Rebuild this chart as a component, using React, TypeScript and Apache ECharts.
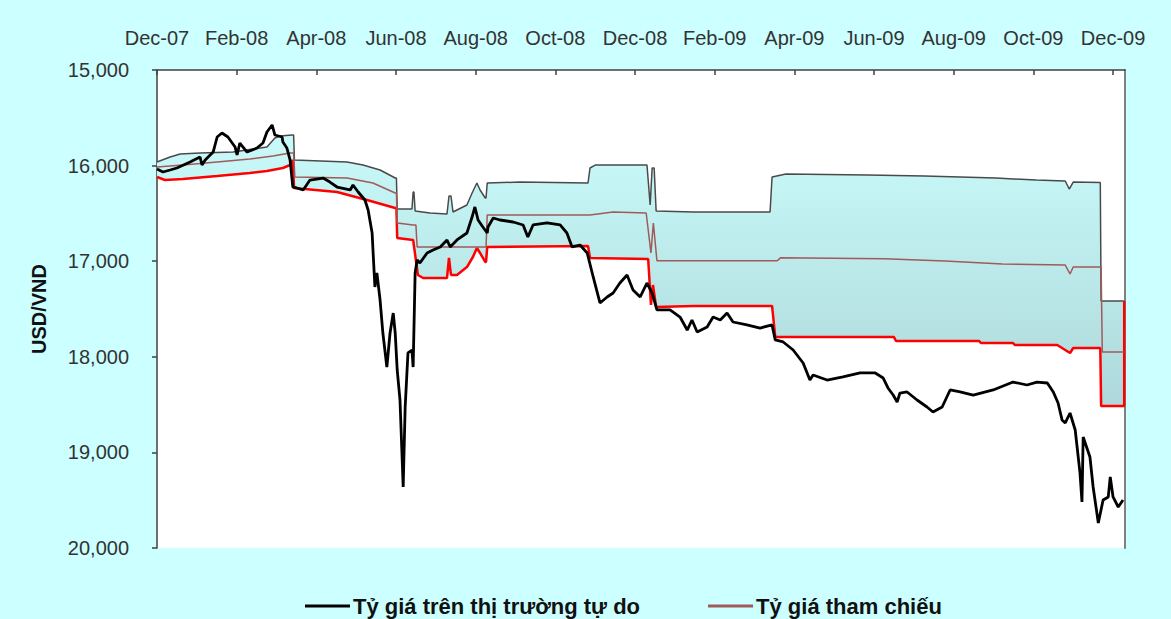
import React, { useEffect, useRef } from 'react';
import * as echarts from 'echarts';

// x positions are months elapsed since the Dec-07 tick (0 = Dec-07, 24 = Dec-09)
const xTickLabels = ['Dec-07', 'Feb-08', 'Apr-08', 'Jun-08', 'Aug-08', 'Oct-08', 'Dec-08', 'Feb-09', 'Apr-09', 'Jun-09', 'Aug-09', 'Oct-09', 'Dec-09'];
const yMin = 15000;
const yMax = 20000;
const yStep = 1000;
const xMax = 24.3;

const legendNames = ['Tỷ giá trên thị trường tự do', 'Tỷ giá tham chiếu'];

// Upper edge of the permitted band (drawn as the dark grey line)
const upperBand: [number, number][] = [
  [0, 15962], [0.33, 15910], [0.58, 15879], [1.08, 15868], [1.91, 15858], [2.59, 15816], [2.76, 15805],
  [2.96, 15711], [3.09, 15690], [3.39, 15680], [3.43, 15680], [3.45, 15941], [4.77, 15962], [5.17, 15994],
  [5.6, 16046], [5.98, 16130], [6.01, 16130], [6.03, 16454], [6.4, 16454], [6.43, 16276], [6.45, 16276],
  [6.48, 16475], [6.85, 16496], [7.28, 16506], [7.33, 16318], [7.38, 16318], [7.43, 16485], [7.78, 16412],
  [7.91, 16287], [8.03, 16182], [8.11, 16255], [8.24, 16339], [8.26, 16339], [8.29, 16182], [9.11, 16172],
  [10.82, 16182], [10.87, 16025], [11.0, 15994], [12.3, 15994], [12.38, 16412], [12.43, 16025], [12.48, 16025],
  [12.53, 16475], [13.46, 16485], [15.39, 16485], [15.44, 16119], [15.79, 16088], [17.83, 16098], [19.26, 16109],
  [21.06, 16130], [22.07, 16151], [22.8, 16161], [22.9, 16245], [23.0, 16172], [23.68, 16177], [23.7, 17416],
  [24.28, 17416],
];

// Reference rate
const refRate: [number, number][] = [
  [0, 16015], [0.65, 15994], [1.51, 15962], [2.33, 15931], [2.91, 15900], [3.34, 15868], [3.43, 15868],
  [3.46, 16119], [4.77, 16130], [5.42, 16182], [5.98, 16287], [6.01, 16287], [6.03, 16600], [6.43, 16621],
  [6.5, 16621], [6.53, 16851], [8.26, 16851], [8.29, 16517], [10.87, 16517], [11.45, 16485], [12.28, 16496],
  [12.4, 16914], [12.46, 16600], [12.55, 16995], [15.57, 16995], [15.65, 16965], [18.25, 16975], [19.78, 16998],
  [21.22, 17029], [22.8, 17040], [22.92, 17134], [23.0, 17061], [23.7, 17061], [23.73, 17950], [24.28, 17950],
];

// Lower edge of the permitted band (drawn as the red line)
const lowerBand: [number, number][] = [
  [0, 16119], [0.2, 16151], [0.65, 16140], [1.51, 16109], [2.33, 16077], [2.76, 16056], [3.16, 16025],
  [3.34, 15994], [3.41, 15941], [3.44, 16234], [4.52, 16276], [5.27, 16360], [5.98, 16443], [6.01, 16443],
  [6.03, 16757], [6.43, 16778], [6.55, 17144], [6.68, 17176], [7.28, 17176], [7.33, 16966], [7.38, 17144],
  [7.53, 17144], [7.78, 17061], [7.93, 16956], [8.03, 16862], [8.11, 16914], [8.24, 17008], [8.26, 17008],
  [8.29, 16851], [10.82, 16841], [10.87, 16966], [12.33, 16977], [12.4, 17458], [12.45, 17249], [12.53, 17479],
  [13.46, 17468], [15.44, 17468], [15.52, 17793], [18.5, 17793], [18.55, 17835], [20.64, 17835], [20.69, 17856],
  [21.49, 17856], [21.54, 17877], [22.6, 17877], [22.92, 17960], [23.0, 17908], [23.68, 17908], [23.7, 18515],
  [24.28, 18515], [24.28, 17416],
];

// Free-market rate
const freeMarket: [number, number][] = [
  [0, 16036], [0.15, 16067], [0.33, 16046], [0.5, 16025], [0.83, 15962], [1.08, 15910], [1.13, 15994],
  [1.21, 15941], [1.41, 15858], [1.51, 15701], [1.63, 15659], [1.78, 15701], [1.96, 15805], [2.01, 15889],
  [2.08, 15764], [2.26, 15858], [2.51, 15816], [2.66, 15764], [2.76, 15649], [2.89, 15575], [2.96, 15680],
  [3.14, 15701], [3.16, 15753], [3.26, 15816], [3.34, 15941], [3.41, 16224], [3.51, 16234], [3.67, 16255],
  [3.84, 16151], [4.17, 16130], [4.34, 16172], [4.52, 16224], [4.85, 16255], [4.92, 16203], [5.05, 16276],
  [5.22, 16360], [5.3, 16464], [5.4, 16705], [5.47, 17270], [5.52, 17123], [5.6, 17406], [5.67, 17751],
  [5.77, 18107], [5.85, 17751], [5.93, 17542], [5.98, 17751], [6.03, 18138], [6.1, 18452], [6.18, 19362],
  [6.23, 18525], [6.3, 17960], [6.4, 17929], [6.43, 18107], [6.48, 17123], [6.53, 16987], [6.6, 17019],
  [6.78, 16914], [6.93, 16883], [7.11, 16851], [7.28, 16778], [7.36, 16851], [7.53, 16778], [7.78, 16705],
  [7.91, 16538], [7.98, 16433], [8.06, 16569], [8.18, 16642], [8.29, 16705], [8.31, 16642], [8.44, 16548],
  [8.61, 16569], [8.94, 16590], [9.19, 16621], [9.31, 16747], [9.44, 16621], [9.79, 16600], [10.12, 16621],
  [10.29, 16705], [10.42, 16851], [10.62, 16831], [10.8, 16914], [10.95, 17165], [11.12, 17437], [11.3, 17374],
  [11.45, 17333], [11.62, 17228], [11.8, 17144], [11.95, 17301], [12.13, 17374], [12.3, 17228], [12.43, 17333],
  [12.55, 17510], [12.88, 17510], [13.13, 17584], [13.31, 17720], [13.43, 17615], [13.56, 17741], [13.81, 17688],
  [13.96, 17584], [14.14, 17615], [14.31, 17542], [14.46, 17636], [14.81, 17667], [15.14, 17699], [15.44, 17667],
  [15.52, 17824], [15.72, 17845], [15.97, 17929], [16.22, 18065], [16.39, 18243], [16.47, 18190], [16.82, 18243],
  [17.22, 18211], [17.65, 18169], [18.03, 18169], [18.23, 18222], [18.35, 18326], [18.48, 18400], [18.58, 18473],
  [18.65, 18379], [18.83, 18368], [19.08, 18452], [19.33, 18525], [19.48, 18577], [19.71, 18525], [19.91, 18347],
  [20.16, 18368], [20.49, 18400], [20.99, 18347], [21.49, 18264], [21.84, 18295], [22.09, 18264], [22.35, 18274],
  [22.5, 18368], [22.62, 18483], [22.72, 18661], [22.8, 18692], [22.92, 18588], [23.05, 18766], [23.17, 19215],
  [23.22, 19519], [23.25, 18839], [23.42, 19048], [23.5, 19362], [23.63, 19738], [23.75, 19498], [23.88, 19466],
  [23.93, 19257], [24.0, 19466], [24.13, 19571], [24.25, 19498],
];

export default function App() {
  const ref = useRef<HTMLDivElement>(null);

  useEffect(() => {
    document.body.style.margin = '0';
    const chart = echarts.init(ref.current!, null, { renderer: 'svg' });
    const fontFamily = '"Liberation Sans", Arial, Helvetica, sans-serif';
    const bandFill = new echarts.graphic.LinearGradient(0, 0, 0, 1, [
      { offset: 0, color: '#c9faf9' },
      { offset: 1, color: '#aed8db' },
    ]);

    chart.setOption({
      animation: false,
      backgroundColor: '#ccffff',
      grid: {
        left: 157,
        top: 70,
        right: 46,
        bottom: 71,
        show: true,
        backgroundColor: '#ffffff',
        borderWidth: 0,
      },
      xAxis: {
        type: 'value',
        position: 'top',
        min: 0,
        max: xMax,
        interval: 2,
        axisLine: { show: true, onZero: false, lineStyle: { color: '#404040', width: 1.5 } },
        axisTick: { show: true, inside: true, length: 5, lineStyle: { color: '#404040', width: 1.5 } },
        axisLabel: {
          margin: 22,
          fontSize: 20,
          color: '#333333',
          fontFamily,
          showMaxLabel: false,
          formatter: (v: number) => {
            const i = v / 2;
            return Number.isInteger(i) && xTickLabels[i] ? xTickLabels[i] : '';
          },
        },
        splitLine: { show: false },
      },
      yAxis: [
        {
          type: 'value',
          inverse: true,
          position: 'left',
          min: yMin,
          max: yMax,
          interval: yStep,
          axisLine: { show: true, onZero: false, lineStyle: { color: '#404040', width: 1.5 } },
          axisTick: { show: true, inside: false, length: 5, lineStyle: { color: '#404040', width: 1.5 } },
          axisLabel: {
            margin: 28,
            fontSize: 20,
            color: '#333333',
            fontFamily,
            formatter: (v: number) => v.toLocaleString('en-US'),
          },
          splitLine: { show: false },
          name: 'USD/VND',
          nameLocation: 'middle',
          nameRotate: 90,
          nameGap: 108,
          nameTextStyle: { fontSize: 20, fontWeight: 'bold', color: '#111111', fontFamily },
        },
        {
          type: 'value',
          inverse: true,
          position: 'right',
          min: yMin,
          max: yMax,
          interval: yStep,
          axisLine: { show: true, onZero: false, lineStyle: { color: '#808080', width: 2 } },
          axisTick: { show: false },
          axisLabel: { show: false },
          splitLine: { show: false },
        },
      ],
      legend: {
        left: 300,
        top: 590,
        icon: 'rect',
        itemWidth: 45,
        itemHeight: 3,
        itemGap: 68,
        textStyle: { fontSize: 22, fontWeight: 'bold', color: '#111111', fontFamily, padding: [0, 0, 0, -2] },
        data: legendNames,
      },
      series: [
        {
          type: 'custom',
          name: 'band',
          silent: true,
          clip: true,
          data: [[0, yMin]],
          renderItem: (_params: any, api: any) => {
            const pts = upperBand
              .map((p) => api.coord(p))
              .concat(lowerBand.slice().reverse().map((p) => api.coord(p)));
            return { type: 'polygon', shape: { points: pts }, style: { fill: bandFill } };
          },
        },
        {
          type: 'line',
          name: 'upper',
          data: upperBand,
          showSymbol: false,
          symbol: 'none',
          lineStyle: { color: '#4a4a4a', width: 1.5 },
          itemStyle: { color: '#4a4a4a' },
        },
        {
          type: 'line',
          name: 'lower',
          data: lowerBand,
          showSymbol: false,
          symbol: 'none',
          lineStyle: { color: '#ff0000', width: 2.5 },
          itemStyle: { color: '#ff0000' },
        },
        {
          type: 'line',
          name: legendNames[1],
          data: refRate,
          showSymbol: false,
          symbol: 'none',
          lineStyle: { color: '#a05a5a', width: 1.5 },
          itemStyle: { color: '#a05a5a' },
        },
        {
          type: 'line',
          name: legendNames[0],
          data: freeMarket,
          showSymbol: false,
          symbol: 'none',
          lineStyle: { color: '#000000', width: 2.8 },
          itemStyle: { color: '#000000' },
        },
      ],
    });

    return () => chart.dispose();
  }, []);

  return <div ref={ref} style={{ width: 1171, height: 619 }} />;
}
